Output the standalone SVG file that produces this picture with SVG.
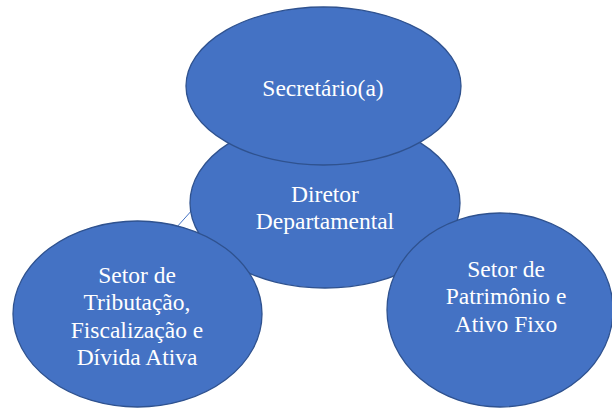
<svg xmlns="http://www.w3.org/2000/svg" width="612" height="408" viewBox="0 0 612 408">
<style>
.n{fill:#4472C4;stroke:#2F528F;stroke-width:1.3}
.t{font-family:'Liberation Serif','Times New Roman',serif;font-size:23.5px;fill:#FFFFFF;text-anchor:middle}
.c{stroke:#4472C4;stroke-width:1;fill:none}
</style>
<rect width="612" height="408" fill="#FFFFFF"/>
<g id="connectors">
<line class="c" x1="176" y1="228" x2="193" y2="209"/>
</g>
<g id="diretor">
<ellipse class="n" cx="325" cy="203" rx="135" ry="85"/>
<text class="t" x="325" y="202">Diretor</text>
<text class="t" x="325" y="229">Departamental</text>
</g>
<g id="secretario">
<ellipse class="n" cx="323.5" cy="86" rx="137.5" ry="79"/>
<text class="t" x="323" y="96">Secretário(a)</text>
</g>
<g id="tributacao">
<ellipse class="n" cx="137.5" cy="314" rx="124.5" ry="93"/>
<text class="t" x="137" y="283">Setor de</text>
<text class="t" x="137" y="310">Tributação,</text>
<text class="t" x="137" y="338">Fiscalização e</text>
<text class="t" x="137" y="365">Dívida Ativa</text>
</g>
<g id="patrimonio">
<ellipse class="n" cx="500" cy="310" rx="113" ry="97"/>
<text class="t" x="506" y="277">Setor de</text>
<text class="t" x="506" y="304">Patrimônio e</text>
<text class="t" x="506" y="332">Ativo Fixo</text>
</g>
</svg>
